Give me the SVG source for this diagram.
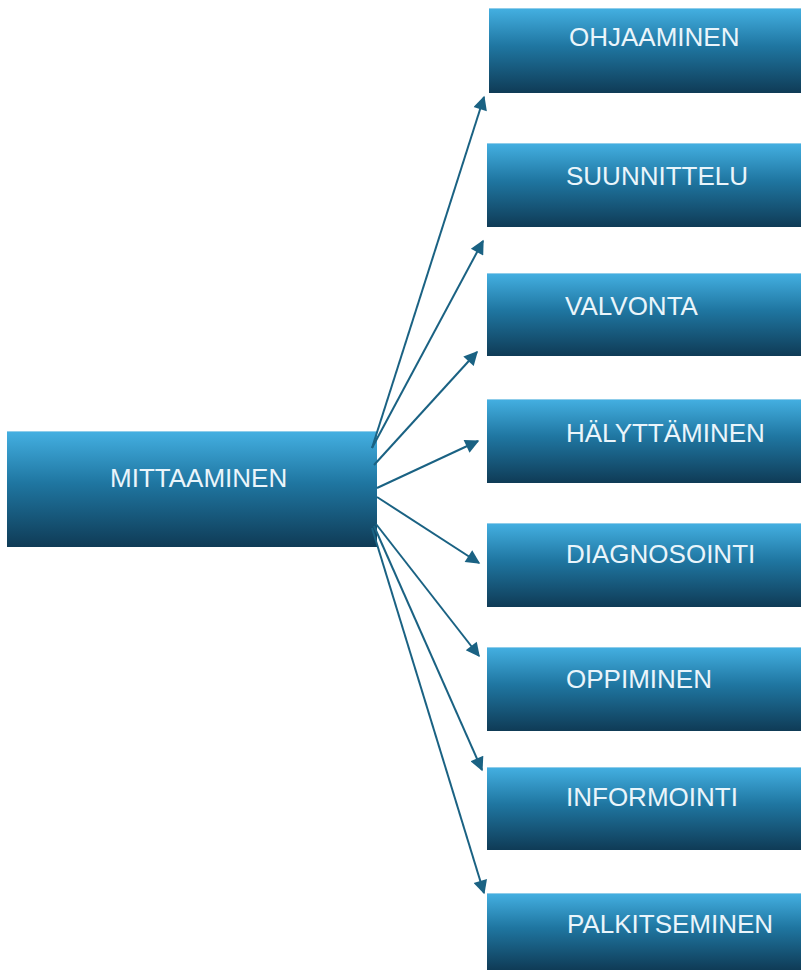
<svg xmlns="http://www.w3.org/2000/svg" width="801" height="970" viewBox="0 0 801 970">
  <defs>
    <linearGradient id="boxFill" x1="0" y1="0" x2="0" y2="1">
      <stop offset="0" stop-color="#44b0e2"/>
      <stop offset="0.45" stop-color="#1f76a1"/>
      <stop offset="1" stop-color="#0f3b56"/>
    </linearGradient>
    <marker id="arrowHead" viewBox="0 0 10 10" refX="9" refY="5" markerWidth="8" markerHeight="7" markerUnits="strokeWidth" orient="auto">
      <path d="M0,0 L10,5 L0,10 z" fill="#1a6283"/>
    </marker>
  </defs>
  <style>
    .box { fill: url(#boxFill); }
    .edge { stroke: #8fcdea; stroke-width: 1; }
    .label { font-family: "Liberation Sans", Arial, sans-serif; font-size: 26px; fill: #eaf5fb; }
    .link { stroke: #1a6283; stroke-width: 2; fill: none; marker-end: url(#arrowHead); }
  </style>

  <rect width="801" height="970" fill="#ffffff"/>

  <g id="node-mittaaminen">
    <rect class="box" x="7" y="431" width="370" height="116"/>
    <line class="edge" x1="7" y1="431.5" x2="377" y2="431.5"/>
    <text class="label" x="110" y="487">MITTAAMINEN</text>
  </g>

  <g id="node-ohjaaminen">
    <rect class="box" x="489" y="8" width="312" height="85"/>
    <line class="edge" x1="489" y1="8.5" x2="801" y2="8.5"/>
    <text class="label" x="569" y="46">OHJAAMINEN</text>
  </g>

  <g id="node-suunnittelu">
    <rect class="box" x="487" y="143" width="314" height="84"/>
    <line class="edge" x1="487" y1="143.5" x2="801" y2="143.5"/>
    <text class="label" x="566" y="185">SUUNNITTELU</text>
  </g>

  <g id="node-valvonta">
    <rect class="box" x="487" y="273" width="314" height="83"/>
    <line class="edge" x1="487" y1="273.5" x2="801" y2="273.5"/>
    <text class="label" x="565" y="315">VALVONTA</text>
  </g>

  <g id="node-halyttaminen">
    <rect class="box" x="487" y="399" width="314" height="84"/>
    <line class="edge" x1="487" y1="399.5" x2="801" y2="399.5"/>
    <text class="label" x="566" y="442">HÄLYTTÄMINEN</text>
  </g>

  <g id="node-diagnosointi">
    <rect class="box" x="487" y="523" width="314" height="84"/>
    <line class="edge" x1="487" y1="523.5" x2="801" y2="523.5"/>
    <text class="label" x="566" y="563">DIAGNOSOINTI</text>
  </g>

  <g id="node-oppiminen">
    <rect class="box" x="487" y="647" width="314" height="84"/>
    <line class="edge" x1="487" y1="647.5" x2="801" y2="647.5"/>
    <text class="label" x="566" y="688">OPPIMINEN</text>
  </g>

  <g id="node-informointi">
    <rect class="box" x="487" y="767" width="314" height="83"/>
    <line class="edge" x1="487" y1="767.5" x2="801" y2="767.5"/>
    <text class="label" x="566" y="806">INFORMOINTI</text>
  </g>

  <g id="node-palkitseminen">
    <rect class="box" x="487" y="893" width="314" height="77"/>
    <line class="edge" x1="487" y1="893.5" x2="801" y2="893.5"/>
    <text class="label" x="567" y="933">PALKITSEMINEN</text>
  </g>

  <g id="connectors">
    <line class="link" x1="372" y1="448" x2="484" y2="97"/>
    <line class="link" x1="372" y1="448" x2="483" y2="241"/>
    <line class="link" x1="374" y1="465" x2="477" y2="352"/>
    <line class="link" x1="377" y1="488" x2="478" y2="441"/>
    <line class="link" x1="377" y1="497" x2="479" y2="563"/>
    <line class="link" x1="376" y1="524" x2="479" y2="656"/>
    <line class="link" x1="374" y1="526" x2="482" y2="770"/>
    <line class="link" x1="372" y1="528" x2="484" y2="893"/>
  </g>
</svg>
